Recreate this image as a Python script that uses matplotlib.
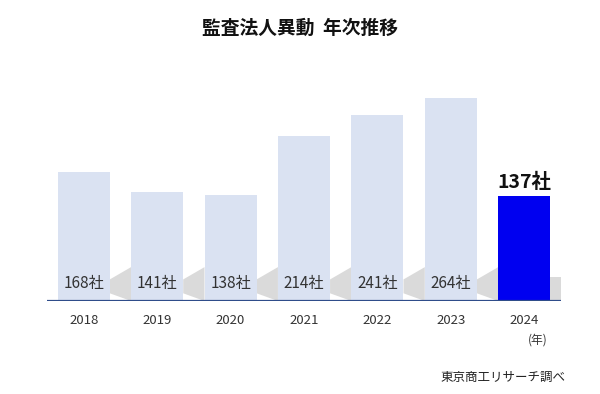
import matplotlib
matplotlib.use('Agg')
import matplotlib.pyplot as plt
from matplotlib.patches import Polygon

plt.rcParams['font.family'] = ['Noto Sans CJK JP', 'DejaVu Sans']

# data
years = ['2018', '2019', '2020', '2021', '2022', '2023', '2024']
counts = [168, 141, 138, 214, 241, 264, 137]

light = '#dae2f2'
highlight = '#0000f0'
colors = [light] * (len(years) - 1) + [highlight]

fig = plt.figure(figsize=(6, 3.94), dpi=100)
ax = fig.add_axes([47 / 600, 93 / 394, 514 / 600, 231 / 394])

x = list(range(len(years)))
bw = 0.71
ax.bar(x, counts, width=bw, color=colors, zorder=3)

# soft grey shadow behind the bar feet
for i in range(len(years)):
    xr = i + bw / 2
    if i < len(years) - 1:
        xl = i + 1 - bw / 2
        pts = [(xr, 10), (xr, 28), (xl, 44), (xl, 0)]
    else:
        xl = len(years) - 0.5
        pts = [(xr, 0), (xr, 31), (xl, 31), (xl, 0)]
    ax.add_patch(Polygon(pts, closed=True, facecolor='#dadada',
                         edgecolor='none', zorder=2))

ax.axhline(0, color='#2f4d8a', lw=1.6, zorder=4)

for i, v in enumerate(counts[:-1]):
    ax.text(i, 23, f'{v}社', ha='center', va='center', fontsize=11,
            color='#333333', zorder=5)
ax.text(x[-1], counts[-1] + 5, f'{counts[-1]}社', ha='center', va='bottom',
        fontsize=14, fontweight='bold', color='#111111', zorder=5)

ax.set_xlim(-0.5, len(years) - 0.5)
ax.set_ylim(0, 300)
ax.set_xticks(x)
ax.set_xticklabels(years, fontsize=9.5, color='#333333')
ax.tick_params(axis='x', length=0, pad=9)
ax.set_yticks([])
for s in ax.spines.values():
    s.set_visible(False)

fig.text(0.5, 1 - 28 / 394, '監査法人異動  年次推移', ha='center', va='center',
         fontsize=13.5, fontweight='bold', color='#111111')
fig.text(538 / 600, 1 - 340 / 394, '(年)', ha='center', va='center',
         fontsize=8.5, color='#333333')
fig.text(565 / 600, 1 - 377 / 394, '東京商工リサーチ調べ', ha='right', va='center',
         fontsize=9, color='#222222')

fig.savefig('out.png', dpi=100)
